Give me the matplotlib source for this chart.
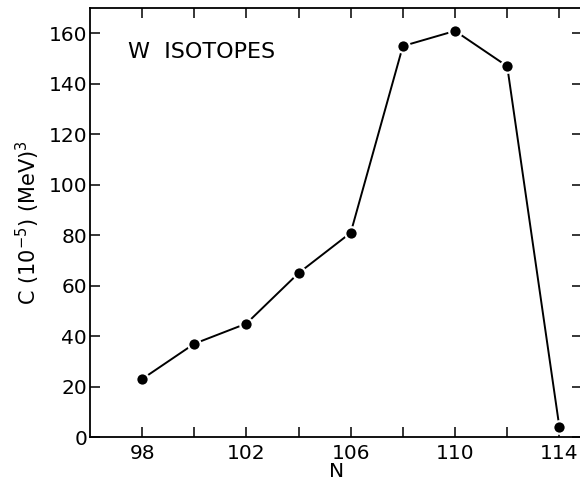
import matplotlib.pyplot as plt

# Valeurs
n_values = [98, 100, 102, 104, 106, 108, 110, 112, 114]
c_values = [23, 37, 45, 65, 81, 155, 161, 147, 4]
x_tick_labels = [98, 102, 106, 110, 114]
y_tick_values = [0, 20, 40, 60, 80, 100, 120, 140, 160]

plt.rcParams['font.family'] = ['DejaVu Sans']

fig = plt.figure(figsize=(5.8, 4.83), dpi=100)
# le bord droit des axes sort légèrement de l'image, comme sur l'original
ax = fig.add_axes([0.155, 0.095, 0.849, 0.888])

ax.plot(n_values, c_values, color='black', lw=1.4, marker='o', ms=9,
        mfc='black', mec='white', mew=1.6)

ax.set_xlim(96, 114.88)
ax.set_ylim(0, 170)

ax.set_xticks(range(98, 115, 2))
ax.set_xticklabels([str(v) if v in x_tick_labels else '' for v in range(98, 115, 2)])
ax.set_yticks(y_tick_values)
ax.tick_params(direction='in', length=7.5, width=1.1, top=True, right=True,
               labelsize=14.5)
ax.tick_params(axis='x', pad=5)
ax.tick_params(axis='y', pad=2)

for s in ax.spines.values():
    s.set_linewidth(1.3)

ax.set_xlabel('N', fontsize=14.5, labelpad=-1)
ax.set_ylabel('C (10$^{-5}$) (MeV)$^{3}$', fontsize=15, labelpad=5)
ax.text(97.45, 152.5, 'W  ISOTOPES', fontsize=16, va='center', ha='left')

plt.savefig('out.png', dpi=100)
